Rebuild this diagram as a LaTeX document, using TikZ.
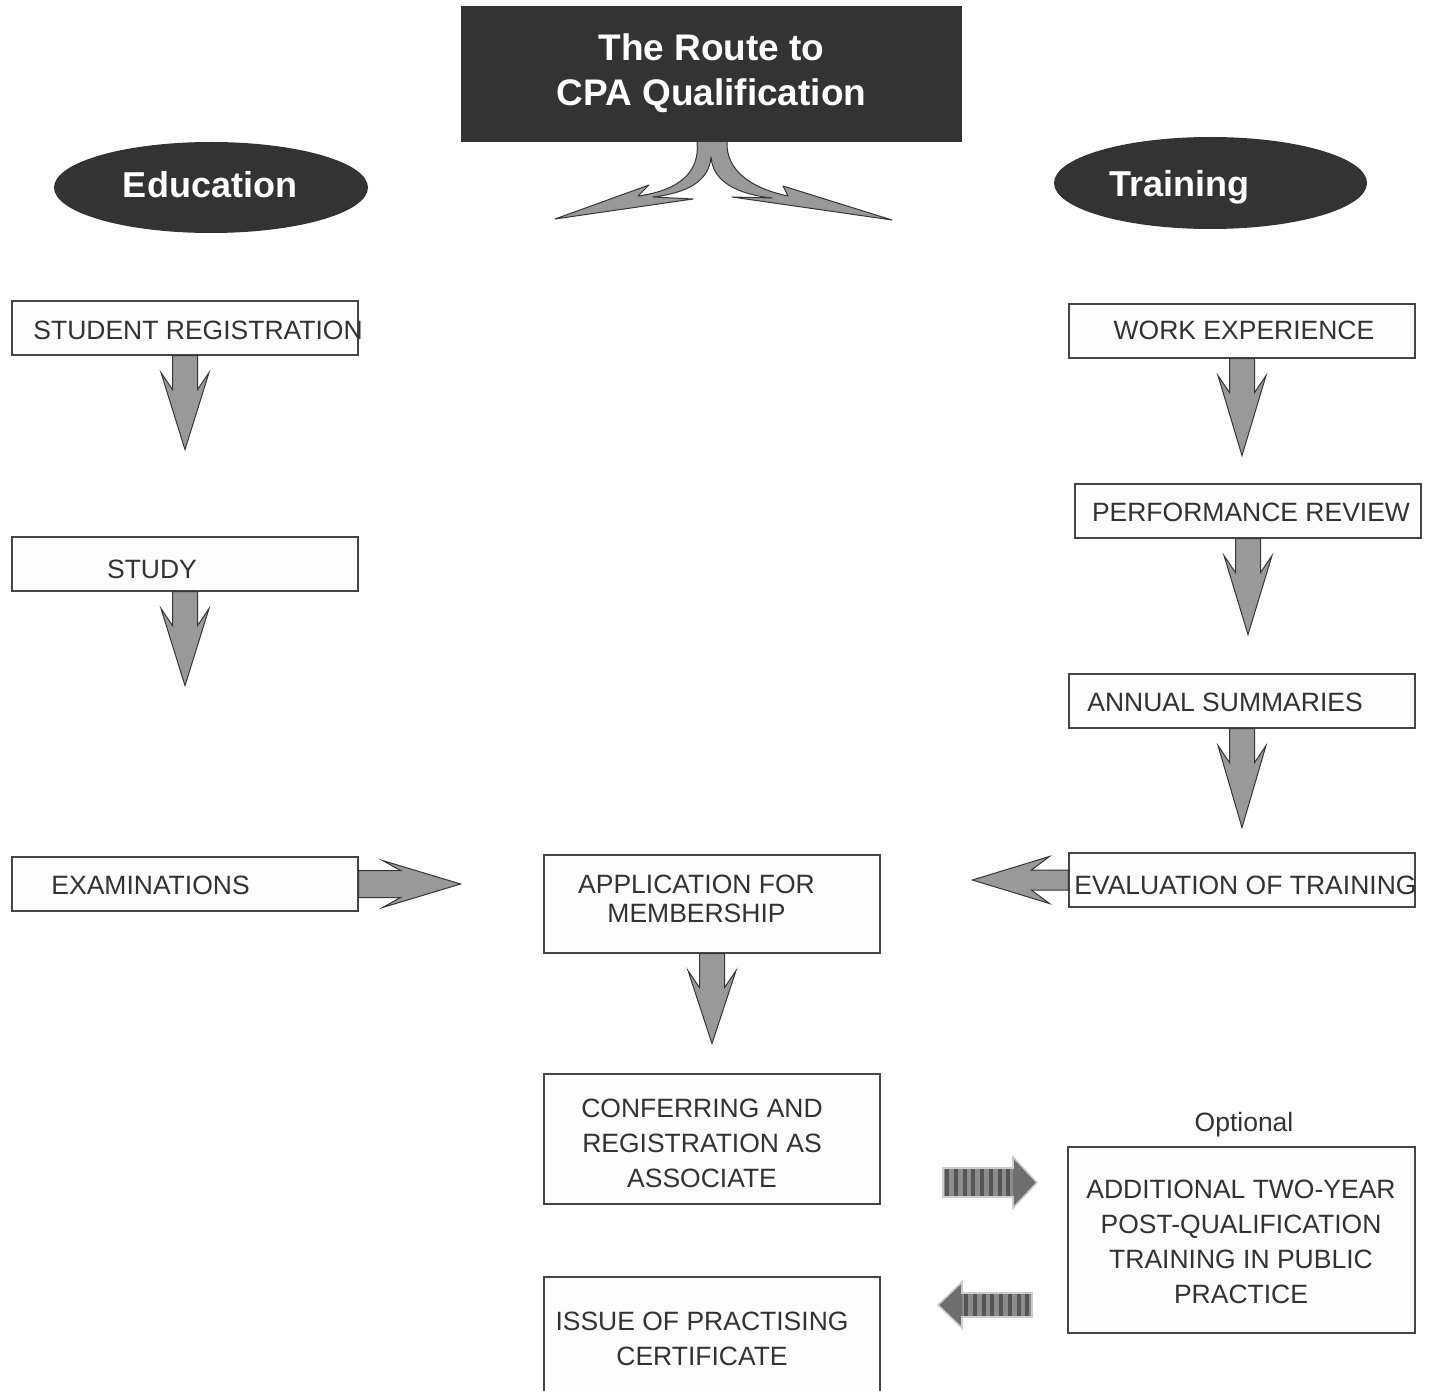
\documentclass[tikz,border=0pt]{standalone}
\usepackage{fontspec}
\setmainfont{Liberation Sans}
\usetikzlibrary{fit,shapes.geometric}
\definecolor{darkfill}{RGB}{52,51,52}
\definecolor{boxline}{RGB}{70,70,70}
\definecolor{boxfill}{RGB}{253,253,253}
\definecolor{txt}{RGB}{51,51,51}
\definecolor{arrowfill}{RGB}{153,153,153}
\definecolor{arrowline}{RGB}{55,55,55}
\definecolor{stripedark}{RGB}{85,85,85}
\definecolor{stripelight}{RGB}{140,140,140}
\definecolor{stripehead}{RGB}{110,110,110}
\definecolor{stripeedge}{RGB}{205,205,205}
\newcommand\blockarrow[7]{%
  \draw[blockarrow,shift={#1},rotate=#2]
    (-#6,0) -- (-#6,#5) -- (-#7,#4) -- (0,#3) -- (#7,#4) -- (#6,#5) -- (#6,0) -- cycle;}
\tikzset{
  box/.style={draw=boxline, fill=boxfill, line width=0.6pt, inner sep=0pt},
  lbl/.style={text=txt, inner sep=0pt, font=\fontsize{13.25}{17.5}\selectfont},
  mlbl/.style={lbl, align=center},
  blockarrow/.style={fill=arrowfill, draw=arrowline, line width=0.5pt, line join=miter},
  headbox/.style={fill=darkfill, draw=none, inner sep=0pt},
  headtxt/.style={text=white, font=\bfseries\fontsize{18.5}{22.5}\selectfont, align=center, inner sep=0pt},
  elltxt/.style={text=white, font=\bfseries\fontsize{18}{22}\selectfont, inner sep=0pt},
  oval/.style={ellipse, fill=darkfill, draw=none, inner sep=0pt},
}
\begin{document}
\begin{tikzpicture}[x=0.5pt,y=-0.5pt]
\useasboundingbox (0,0) rectangle (1434,1391);
\fill[white] (0,0) rectangle (1434,1391);

% tree arrow under the title
\draw[blockarrow, line join=round]
  (697,136) -- (697,142) .. controls (700,170) and (682,190) .. (638,196)
  -- (649,185) -- (555,219) -- (693,199) -- (653,197)
  .. controls (686,193) and (709,182) .. (711,157)
  .. controls (713,182) and (737,194) .. (772,198)
  -- (732,197) -- (892,220) -- (783,186) -- (788,196)
  .. controls (750,188) and (726,170) .. (727,142) -- (727,136) -- cycle;

% title
\node[headbox, fit={(461,6) (962,142)}] (title) {};
\node[headtxt] (titletext) at (711.5,73) {The Route to\\CPA Qualification};

% ovals
\node[oval, minimum width=157pt, minimum height=45.5pt] (edu) at (211,187.5) {};
\node[elltxt, anchor=base] (edutext) at (210,198) {Education};
\node[oval, minimum width=156.5pt, minimum height=46pt] (trn) at (1210.5,183) {};
\node[elltxt, anchor=base] (trntext) at (1179,197) {Training};

% boxes
\node[box, fit={(12,301) (358,355)}] (sr) {};
\node[box, fit={(12,537) (358,591)}] (st) {};
\node[box, fit={(12,857) (358,911)}] (ex) {};
\node[box, fit={(1069,304) (1415,358)}] (we) {};
\node[box, fit={(1075,484) (1421,538)}] (pr) {};
\node[box, fit={(1069,674) (1415,728)}] (as) {};
\node[box, fit={(1069,853) (1415,907)}] (ev) {};
\node[box, fit={(544,855) (880,953)}] (ap) {};
\node[box, fit={(544,1074) (880,1204)}] (cf) {};
\node[box, fit={(1068,1147) (1415,1333)}] (ad) {};
\node[box, fit={(544,1277) (880,1400)}] (is) {};

% box texts
\node[lbl, anchor=base west] (srt) at (33,339) {STUDENT REGISTRATION};
\node[lbl, anchor=base] (stt) at (152,578) {STUDY};
\node[lbl, anchor=base west] (ext) at (51,894) {EXAMINATIONS};
\node[lbl, anchor=base] (wet) at (1244,339) {WORK EXPERIENCE};
\node[lbl, anchor=base] (prt) at (1251,521) {PERFORMANCE REVIEW};
\node[lbl, anchor=base west] (ast) at (1087,711) {ANNUAL SUMMARIES};
\node[lbl, anchor=base west] (evt) at (1074,894) {EVALUATION OF TRAINING};
\node[mlbl, font=\fontsize{13.25}{14.5}\selectfont] (apt) at (696.5,898.5) {APPLICATION FOR\\MEMBERSHIP};
\node[mlbl] (cft) at (702,1143) {CONFERRING AND\\REGISTRATION AS\\ASSOCIATE};
\node[mlbl] (adt) at (1241,1241.5) {ADDITIONAL TWO-YEAR\\POST-QUALIFICATION\\TRAINING IN PUBLIC\\PRACTICE};
\node[mlbl] (ist) at (702,1338.5) {ISSUE OF PRACTISING\\CERTIFICATE};
\node[lbl, anchor=base] (opt) at (1244,1131.5) {Optional};

% block arrows
\blockarrow{(sr.south)}{0}{94}{17}{34}{12.5}{24}
\blockarrow{(st.south)}{0}{94}{17}{34}{12.5}{24}
\blockarrow{(we.south)}{0}{97}{17}{34}{12.5}{24}
\blockarrow{(pr.south)}{0}{96}{17}{34}{12.5}{24}
\blockarrow{(as.south)}{0}{99}{17}{34}{12.5}{24}
\blockarrow{(ap.south)}{0}{90}{17}{34}{12.5}{24}
\blockarrow{(ex.east)}{90}{102}{24}{42}{13.5}{23.5}
\blockarrow{(ev.west)}{-90}{96}{19}{37}{10}{23.5}

% striped arrows
\fill[stripelight] (943,1168) rectangle (1013,1197);
\foreach \i in {0,...,7} \fill[stripedark] ({945+\i*8.75},1168) rectangle ++(4,29);
\fill[stripehead] (1013,1157) -- (1037,1182.5) -- (1013,1208) -- cycle;
\draw[stripeedge, line width=0.8pt, line join=miter]
  (943,1168) -- (1013,1168) -- (1013,1157) -- (1037,1182.5) -- (1013,1208) -- (1013,1197) -- (943,1197) -- cycle;

\fill[stripelight] (962,1293) rectangle (1032,1317);
\foreach \i in {0,...,7} \fill[stripedark] ({964+\i*8.75},1293) rectangle ++(4,24);
\fill[stripehead] (962,1282) -- (938,1305) -- (962,1328) -- cycle;
\draw[stripeedge, line width=0.8pt, line join=miter]
  (1032,1293) -- (962,1293) -- (962,1282) -- (938,1305) -- (962,1328) -- (962,1317) -- (1032,1317) -- cycle;
\end{tikzpicture}
\end{document}
